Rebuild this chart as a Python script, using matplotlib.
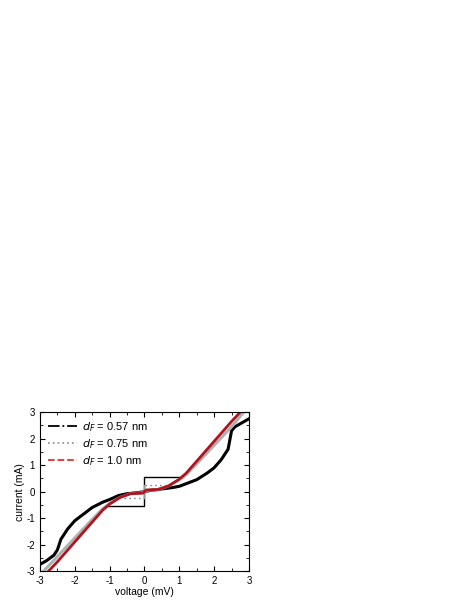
import numpy as np
import matplotlib.pyplot as plt

# ── DATA ─────────────────────────────────────────────────
v_057 = [-3.0, -2.8, -2.6, -2.5, -2.4, -2.2, -2.0, -1.8, -1.5, -1.2, -1.0, -0.75,
         -0.5, -0.2, 0.0, 0.2, 0.5, 0.8, 1.0, 1.2, 1.5, 1.8, 2.0, 2.2, 2.4, 2.5, 2.6, 2.8, 3.0]
i_057 = [-2.75, -2.6, -2.4, -2.2, -1.8, -1.4, -1.1, -0.9, -0.6, -0.4, -0.3, -0.15,
         -0.08, -0.04, 0.0, 0.05, 0.1, 0.15, 0.2, 0.3, 0.45, 0.7, 0.9, 1.2, 1.6, 2.3, 2.45, 2.6, 2.75]

v_075 = [-3.0, -2.5, -2.0, -1.5, -1.2, -1.0, -0.7, -0.4, -0.1, 0.0,
         0.1, 0.4, 0.7, 1.0, 1.2, 1.5, 2.0, 2.5, 2.85]
i_075 = [-3.15, -2.45, -1.75, -1.05, -0.65, -0.45, -0.22, -0.08, -0.05, 0.0,
         0.05, 0.08, 0.22, 0.45, 0.65, 1.05, 1.75, 2.45, 3.0]

v_100 = [-2.75, -2.5, -2.0, -1.5, -1.2, -1.0, -0.7, -0.4, -0.05, 0.0,
         0.05, 0.4, 0.7, 1.0, 1.2, 1.5, 2.0, 2.5, 2.75]
i_100 = [-3.0, -2.65, -1.9, -1.15, -0.7, -0.47, -0.22, -0.08, -0.06, 0.0,
         0.06, 0.08, 0.22, 0.47, 0.7, 1.15, 1.9, 2.65, 3.0]

# thin step lines (gap edges)
step_v_057 = [-1.1, 0.0, 0.0, 1.1]
step_i_057 = [-0.55, -0.55, 0.55, 0.55]
step_v_075 = [-0.6, 0.0, 0.0, 0.6]
step_i_075 = [-0.25, -0.25, 0.25, 0.25]

labels = [r"$d_F$ = 0.57 nm", r"$d_F$ = 0.75 nm", r"$d_F$ = 1.0 nm"]

plt.rcParams["font.family"] = "Liberation Sans"
plt.rcParams["axes.unicode_minus"] = False
fig = plt.figure(figsize=(4.69, 6.07), dpi=100)
ax = fig.add_axes([0.0853, 0.0593, 0.4456, 0.2617])

ax.plot(step_v_057, step_i_057, color="black", lw=1.0)
ax.plot(step_v_075, step_i_075, color="#777777", lw=1.0, ls=(0, (1, 2.5)))
ax.plot([0, 0], [-0.25, 0.25], color="#999999", lw=1.0)

ax.plot(v_057, i_057, color="black", lw=2.2)
ax.plot(v_075, i_075, color="#b0b0b0", lw=2.2)
ax.plot(v_100, i_100, color="#b0141e", lw=2.0)

# legend handles
ax.plot([], [], color="black", lw=1.3, ls="-.", label=labels[0])
ax.plot([], [], color="#999999", lw=1.3, ls=":", label=labels[1])
ax.plot([], [], color="#e03030", lw=1.3, ls="--", label=labels[2])
handles, lbls = ax.get_legend_handles_labels()
ax.legend(handles, lbls, loc="upper left", frameon=False, fontsize=8,
          handlelength=2.6, handletextpad=0.5, labelspacing=0.3,
          borderaxespad=0.3)

ax.set_xlim(-3, 3)
ax.set_ylim(-3, 3)
ax.set_xticks(range(-3, 4))
ax.set_yticks(range(-3, 4))
ax.set_xticks(np.arange(-3, 3.01, 0.5), minor=True)
ax.set_yticks(np.arange(-3, 3.01, 0.5), minor=True)
ax.tick_params(which="both", direction="in", top=True, right=True, labelsize=7)
ax.tick_params(which="major", length=3.5)
ax.tick_params(which="minor", length=2)
ax.set_xlabel("voltage (mV)", fontsize=7.5, labelpad=1)
ax.set_ylabel("current (mA)", fontsize=7.5, labelpad=1)

fig.savefig("out.png", dpi=100)
